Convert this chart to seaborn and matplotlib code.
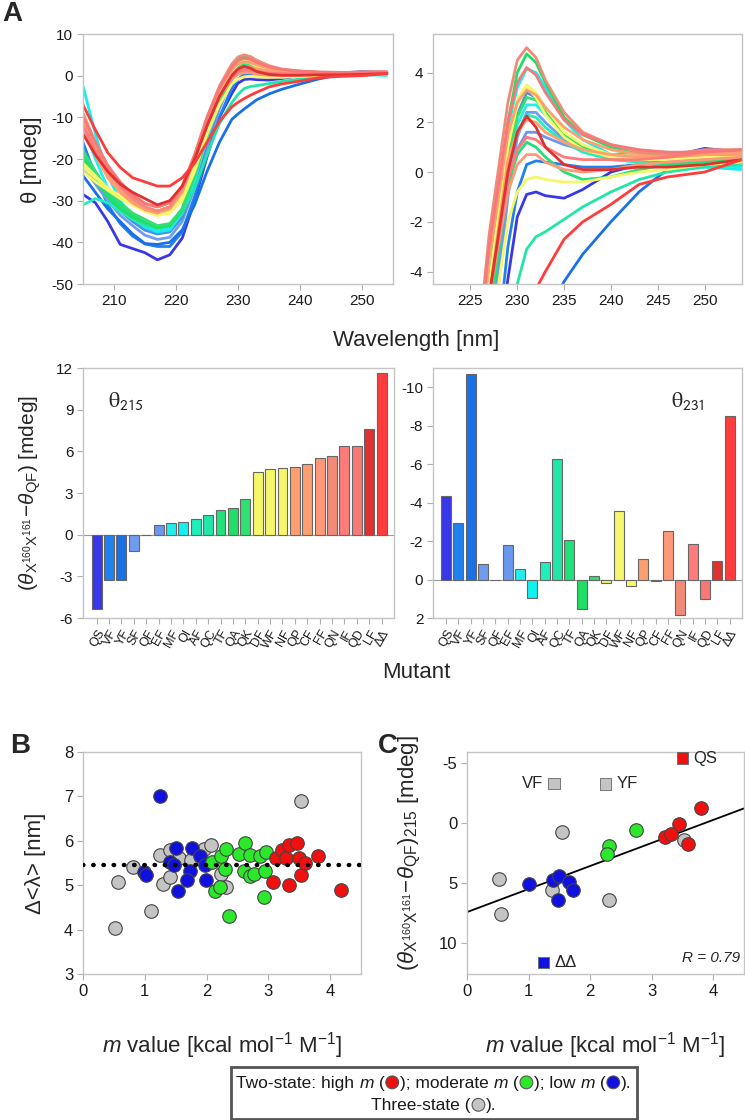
import numpy as np
import pandas as pd
import matplotlib
matplotlib.use("Agg")
import matplotlib.pyplot as plt
import seaborn as sns
from matplotlib.offsetbox import TextArea, DrawingArea, HPacker, VPacker, AnnotationBbox
from matplotlib.patches import Circle

# ---------------- data ----------------
mutants = ['QS', 'VF', 'YF', 'SF', 'QF', 'EF', 'MF', 'QI', 'AF', 'QC', 'TF', 'QA', 'QK',
           'DF', 'WF', 'NF', 'QP', 'CF', 'FF', 'QN', 'IF', 'QD', 'LF', 'ΔΔ']
mutant_colors = ['#3838e8', '#1f80f0', '#1a70e6', '#6f9cf0', '#4a90e0', '#6a98ee', '#22eeee',
                 '#10f0f0', '#20eebb', '#20e6a8', '#22e07a', '#22dd66', '#30e070', '#f6f66a',
                 '#f6f66a', '#f6f66a', '#ff9f70', '#ff9f70', '#ff9878', '#f28a78', '#ff7a7a',
                 '#f87878', '#e03030', '#ff3c3c']

theta215_diff = [-5.38, -3.29, -3.24, -1.18, 0.0, 0.67, 0.82, 0.89, 1.13, 1.39, 1.78, 1.92, 2.57,
                 4.51, 4.70, 4.82, 4.90, 5.11, 5.50, 5.64, 6.38, 6.38, 7.58, 11.64]
theta231_diff = [-4.36, -2.93, -10.70, -0.81, 0.0, -1.79, -0.53, 0.95, -0.93, -6.29, -2.04, 1.54,
                 -0.20, 0.20, -3.57, 0.31, -1.09, 0.07, -2.53, 1.82, -1.83, 0.99, -0.99, -8.50]

wavelength = [205, 207, 209, 211, 213, 215, 217, 219, 221, 223, 225, 227, 229, 230, 231, 232,
              233, 235, 237, 240, 243, 246, 250, 254]
cd_QS = [-28.5, -30.5, -35.0, -40.5, -41.5, -42.5, -44.2, -43.0, -39.0, -30.0, -19.5, -10.0, -4.3, -1.8, -0.9, -0.8, -0.95, -1.05, -0.7, 0.0, 0.3, 0.6, 0.95, 0.8]
cd_VF = [-16.0, -24.0, -31.0, -35.5, -38.5, -40.4, -41.0, -41.0, -37.5, -29.0, -19.0, -10.0, -3.0, -0.8, 0.3, 0.45, 0.4, 0.3, 0.2, 0.2, 0.3, 0.4, 0.6, 0.7]
cd_YF = [-24.0, -28.0, -32.0, -35.0, -38.0, -40.3, -40.5, -40.0, -37.0, -31.0, -23.0, -16.0, -10.5, -9.2, -8.0, -6.9, -5.8, -4.4, -3.3, -2.0, -0.8, 0.1, 0.3, 0.7]
cd_SF = [-22.0, -26.0, -30.0, -33.5, -36.0, -38.3, -39.3, -38.8, -35.0, -27.0, -17.0, -8.0, -1.0, 1.4, 2.4, 2.4, 2.0, 1.3, 0.9, 0.6, 0.4, 0.4, 0.5, 0.6]
cd_QF = [-20.0, -25.0, -29.0, -32.5, -35.0, -37.1, -38.0, -37.5, -34.0, -26.0, -16.0, -7.0, 0.5, 2.3, 3.2, 3.0, 2.4, 1.5, 1.0, 0.7, 0.5, 0.4, 0.5, 0.6]
cd_EF = [-18.0, -23.0, -28.0, -31.5, -34.0, -36.4, -37.5, -37.0, -33.0, -25.0, -15.0, -7.0, -0.5, 0.9, 1.6, 1.6, 1.4, 1.1, 0.9, 0.6, 0.5, 0.4, 0.5, 0.5]
cd_MF = [-12.0, -20.0, -27.0, -31.0, -34.0, -36.3, -37.0, -36.5, -33.0, -25.0, -15.0, -6.0, 0.0, 1.9, 2.7, 2.7, 2.3, 1.5, 1.0, 0.6, 0.4, 0.3, 0.3, 0.2]
cd_QI = [-2.5, -14.0, -24.0, -30.0, -34.0, -36.2, -37.5, -37.0, -33.0, -24.0, -14.0, -5.0, 1.8, 3.4, 4.15, 4.0, 3.4, 2.1, 1.3, 0.7, 0.4, 0.2, 0.2, 0.1]
cd_AF = [-31.0, -29.5, -30.5, -32.5, -34.5, -36.0, -36.5, -36.0, -32.0, -24.0, -14.0, -6.0, 0.0, 1.6, 2.3, 2.2, 1.8, 1.2, 0.8, 0.5, 0.4, 0.3, 0.3, 0.3]
cd_QC = [-20.0, -25.0, -29.0, -32.0, -34.0, -35.7, -36.5, -36.0, -33.0, -27.0, -19.0, -11.5, -6.5, -4.5, -3.1, -2.6, -2.4, -1.9, -1.4, -0.8, -0.3, 0.0, 0.2, 0.3]
cd_TF = [-19.0, -24.0, -28.0, -31.0, -33.5, -35.3, -36.5, -36.0, -32.0, -24.0, -14.0, -6.0, -0.5, 0.7, 1.2, 1.0, 0.6, 0.0, -0.3, -0.2, 0.1, 0.3, 0.4, 0.5]
cd_QA = [-20.0, -25.0, -29.0, -32.0, -34.0, -35.2, -36.5, -36.0, -32.0, -23.0, -13.0, -4.5, 2.0, 4.0, 4.75, 4.4, 3.6, 2.2, 1.5, 1.0, 0.8, 0.6, 0.5, 0.4]
cd_QK = [-18.0, -23.0, -27.5, -30.5, -33.0, -34.5, -36.0, -35.5, -32.0, -24.0, -14.0, -6.0, 0.5, 2.2, 3.0, 2.9, 2.4, 1.5, 1.0, 0.7, 0.8, 0.8, 0.6, 0.5]
cd_DF = [-21.0, -24.0, -27.0, -29.0, -31.0, -32.6, -33.5, -33.0, -29.5, -22.0, -13.0, -5.0, 1.0, 2.7, 3.4, 3.0, 2.3, 1.4, 0.9, 0.6, 0.5, 0.5, 0.6, 0.6]
cd_WF = [-22.0, -24.5, -27.0, -29.0, -31.0, -32.4, -33.5, -33.0, -30.0, -23.0, -14.0, -7.0, -2.0, -0.8, -0.3, -0.2, -0.3, -0.4, -0.4, -0.2, 0.0, 0.1, 0.3, 0.4]
cd_NF = [-23.0, -25.5, -27.5, -29.5, -31.0, -32.3, -33.0, -32.5, -29.0, -21.0, -12.0, -4.5, 1.2, 2.9, 3.5, 3.2, 2.6, 1.6, 1.1, 0.7, 0.6, 0.6, 0.6, 0.7]
cd_QP = [-11.0, -18.0, -24.0, -28.0, -30.5, -32.2, -33.0, -32.0, -28.0, -20.0, -12.0, -5.0, 0.5, 1.6, 2.1, 2.0, 1.6, 1.2, 0.9, 0.7, 0.6, 0.6, 0.7, 0.7]
cd_CF = [-12.0, -19.0, -24.5, -28.0, -30.5, -32.0, -32.5, -31.5, -27.5, -19.5, -11.0, -3.5, 1.5, 2.8, 3.3, 3.1, 2.6, 1.8, 1.3, 0.9, 0.7, 0.6, 0.7, 0.8]
cd_FF = [-10.0, -17.0, -23.0, -27.0, -30.0, -31.6, -32.5, -31.5, -27.5, -20.0, -12.0, -5.0, -0.8, 0.3, 0.7, 0.7, 0.4, 0.1, 0.0, 0.1, 0.3, 0.4, 0.5, 0.6]
cd_QN = [-9.0, -16.0, -22.0, -26.5, -29.5, -31.5, -32.5, -31.5, -27.0, -19.0, -10.0, -2.5, 2.8, 4.5, 5.0, 4.6, 3.7, 2.4, 1.6, 1.1, 0.8, 0.7, 0.9, 0.9]
cd_IF = [-12.0, -18.0, -23.0, -26.5, -29.0, -30.7, -31.5, -30.5, -27.0, -20.0, -12.0, -5.0, -0.3, 0.9, 1.4, 1.3, 1.0, 0.6, 0.5, 0.5, 0.5, 0.6, 0.8, 0.9]
cd_QD = [-10.0, -16.0, -21.5, -25.5, -28.5, -30.7, -31.5, -30.5, -26.5, -19.0, -10.0, -3.0, 2.0, 3.6, 4.2, 3.9, 3.2, 2.1, 1.5, 1.1, 0.9, 0.8, 0.8, 0.9]
cd_LF = [-14.0, -19.0, -23.0, -26.0, -28.0, -29.5, -31.0, -30.0, -26.5, -20.0, -12.0, -5.0, 0.0, 1.6, 2.25, 1.8, 1.0, 0.3, 0.1, 0.1, 0.2, 0.2, 0.3, 0.5]
cd_DD = [-7.0, -13.0, -18.5, -22.0, -24.5, -25.5, -26.5, -26.5, -24.5, -21.0, -16.0, -11.0, -7.5, -6.4, -5.5, -4.7, -4.0, -2.7, -2.0, -1.3, -0.5, -0.2, 0.0, 0.5]

# Panel B: m value vs delta <lambda>
B_gray_x = [0.52, 0.56, 0.81, 1.10, 1.25, 1.30, 1.41, 1.41, 1.55, 1.75, 1.96, 2.08, 2.23, 2.32, 3.53]
B_gray_y = [4.03, 5.08, 5.41, 4.43, 5.68, 5.03, 5.80, 5.18, 5.61, 5.56, 5.81, 5.91, 5.25, 4.97, 6.89]
B_blue_x = [1.25, 0.99, 1.02, 1.51, 1.41, 1.47, 1.54, 1.76, 1.74, 1.69, 1.90, 1.97, 1.99]
B_blue_y = [7.01, 5.30, 5.22, 5.83, 5.53, 5.46, 4.86, 5.83, 5.31, 5.12, 5.65, 5.46, 5.11]
B_green_x = [2.09, 2.14, 2.21, 2.23, 2.32, 2.30, 2.37, 2.53, 2.63, 2.61, 2.71, 2.70, 2.76, 2.87, 2.96, 2.95, 2.93]
B_green_y = [5.53, 4.88, 4.97, 5.65, 5.81, 5.36, 4.31, 5.71, 5.95, 5.31, 5.68, 5.20, 5.26, 5.66, 5.74, 5.32, 4.74]
B_red_x = [3.07, 3.13, 3.22, 3.29, 3.33, 3.33, 3.46, 3.49, 3.53, 3.60, 3.80, 4.18]
B_red_y = [5.07, 5.61, 5.80, 5.61, 5.91, 5.01, 5.95, 5.61, 5.23, 5.50, 5.65, 4.89]
B_mean_line = 5.45

# Panel C: m value vs theta215 difference
C_gray_x = [0.52, 0.56, 1.38, 1.55, 2.31, 3.53]
C_gray_y = [4.7, 7.6, 5.6, 0.8, 6.4, 1.4]
C_blue_x = [1.00, 1.40, 1.50, 1.66, 1.72, 1.48]
C_blue_y = [5.1, 4.8, 4.4, 4.9, 5.6, 6.4]
C_green_x = [2.30, 2.27, 2.75]
C_green_y = [1.9, 2.6, 0.6]
C_red_x = [3.80, 3.45, 3.21, 3.32, 3.59]
C_red_y = [-1.2, 0.1, 1.2, 0.9, 1.8]
C_sq_labels = ['QS', 'VF', 'YF', 'ΔΔ']
C_sq_x = [3.50, 1.41, 2.25, 1.24]
C_sq_y = [-5.38, -3.29, -3.24, 11.64]
C_sq_colors = ['#f01010', '#c4c4c4', '#c4c4c4', '#1010e0']
fit_intercept = 7.44
fit_slope = -1.92
fit_r = 0.79

RED, GREEN, BLUE, GRAY = '#f01010', '#2be82b', '#1010e0', '#c4c4c4'

# ---------------- style ----------------
sns.set_theme(style="white")
plt.rcParams['font.family'] = ['Liberation Sans', 'DejaVu Sans']
plt.rcParams['mathtext.fontset'] = 'custom'
plt.rcParams['mathtext.rm'] = 'Liberation Sans'
plt.rcParams['mathtext.it'] = 'Liberation Sans:italic'
plt.rcParams['mathtext.bf'] = 'Liberation Sans:bold'
plt.rcParams['mathtext.sf'] = 'Liberation Sans'
plt.rcParams['axes.unicode_minus'] = False

W, H = 745, 1120
fig = plt.figure(figsize=(W / 100, H / 100), dpi=100)


def add_ax(l, t, r, b):
    return fig.add_axes([l / W, 1 - b / H, (r - l) / W, (b - t) / H])


def style(ax, size=11):
    for s in ax.spines.values():
        s.set_visible(True)
        s.set_color('#c4c4c4')
        s.set_linewidth(1.0)
    ax.tick_params(colors='#b0b0b0', labelcolor='#1a1a1a', length=4, width=0.8,
                   direction='out', labelsize=size, left=True, bottom=True, pad=3)
    ax.set_xlabel('')
    ax.set_ylabel('')


# ---------------- CD spectra ----------------
cd_curves = [cd_QS, cd_VF, cd_YF, cd_SF, cd_QF, cd_EF, cd_MF, cd_QI, cd_AF, cd_QC, cd_TF, cd_QA,
             cd_QK, cd_DF, cd_WF, cd_NF, cd_QP, cd_CF, cd_FF, cd_QN, cd_IF, cd_QD, cd_LF, cd_DD]
rows = []
for m, curve in zip(mutants, cd_curves):
    for w, v in zip(wavelength, curve):
        rows.append((m, w, v))
cd_df = pd.DataFrame(rows, columns=['mutant', 'wl', 'theta'])
pal = dict(zip(mutants, mutant_colors))

axA1 = add_ax(83, 34, 393, 284)
sns.lineplot(data=cd_df, x='wl', y='theta', hue='mutant', palette=pal, estimator=None,
             legend=False, linewidth=2, ax=axA1)
axA1.set_xlim(205, 255)
axA1.set_ylim(-50, 10)
axA1.set_xticks([210, 220, 230, 240, 250])
axA1.set_yticks([-50, -40, -30, -20, -10, 0, 10])
style(axA1)

axA2 = add_ax(433, 34, 742, 284)
sns.lineplot(data=cd_df, x='wl', y='theta', hue='mutant', palette=pal, estimator=None,
             legend=False, linewidth=2, ax=axA2)
axA2.set_xlim(221, 254)
axA2.set_ylim(-4.5, 5.55)
axA2.set_xticks([225, 230, 235, 240, 245, 250])
axA2.set_yticks([-4, -2, 0, 2, 4])
style(axA2)

fig.text(12 / W, 1 - 14 / H, 'A', fontsize=20, fontweight='bold', ha='center', va='center')
fig.text(31 / W, 1 - 160 / H, 'θ [mdeg]', rotation=90, fontsize=16, ha='center', va='center')
fig.text(416 / W, 1 - 341 / H, 'Wavelength [nm]', fontsize=16, ha='center', va='center')

# ---------------- bar charts ----------------
axBar1 = add_ax(83, 368, 394, 618)
sns.barplot(x=mutants, y=theta215_diff, hue=mutants, palette=mutant_colors, legend=False,
            saturation=1, width=0.8, edgecolor='#666666', linewidth=0.8, ax=axBar1)
axBar1.set_xlim(-1.1, 24.0)
axBar1.set_ylim(-6, 12)
axBar1.set_yticks([-6, -3, 0, 3, 6, 9, 12])
axBar1.axhline(0, color='#999999', lw=0.8, zorder=0)
style(axBar1)
axBar1.set_xticks(range(len(mutants)))
axBar1.set_xticklabels(mutants, rotation=60, ha='right', rotation_mode='anchor', fontsize=9)
axBar1.text(0.08, 0.87, r'$\mathrm{θ}_{\mathsf{215}}$', transform=axBar1.transAxes, fontsize=16,
            math_fontfamily='stix', ha='left', va='center')

axBar2 = add_ax(433, 368, 742, 618)
sns.barplot(x=mutants, y=theta231_diff, hue=mutants, palette=mutant_colors, legend=False,
            saturation=1, width=0.8, edgecolor='#666666', linewidth=0.8, ax=axBar2)
axBar2.set_xlim(-1.05, 24.0)
axBar2.set_ylim(2, -11)
axBar2.set_yticks([2, 0, -2, -4, -6, -8, -10])
axBar2.axhline(0, color='#999999', lw=0.8, zorder=0)
style(axBar2)
axBar2.set_xticks(range(len(mutants)))
axBar2.set_xticklabels(mutants, rotation=60, ha='right', rotation_mode='anchor', fontsize=9)
axBar2.text(0.77, 0.87, r'$\mathrm{θ}_{\mathsf{231}}$', transform=axBar2.transAxes, fontsize=16,
            math_fontfamily='stix', ha='left', va='center')

fig.text(30 / W, 1 - 493 / H,
         r'$(\theta_{\mathrm{X}^{160}\mathrm{X}^{161}}\!-\!\theta_{\mathrm{QF}})$ [mdeg]',
         rotation=90, fontsize=15, ha='center', va='center')
fig.text(416 / W, 1 - 672 / H, 'Mutant', fontsize=16, ha='center', va='center')

# ---------------- panel B ----------------
axB = add_ax(83, 752, 361, 974)
sns.lineplot(x=[0, 4.5], y=[B_mean_line, B_mean_line], color='black', lw=3.2,
             linestyle=(0, (0.1, 2.2)), dash_capstyle='round', ax=axB, zorder=5)
for xs, ys, c in [(B_gray_x, B_gray_y, GRAY), (B_blue_x, B_blue_y, BLUE),
                  (B_green_x, B_green_y, GREEN), (B_red_x, B_red_y, RED)]:
    sns.scatterplot(x=xs, y=ys, color=c, s=95, edgecolor='#444444', linewidth=0.8, ax=axB, zorder=3)
axB.set_xlim(0, 4.5)
axB.set_ylim(3, 8)
axB.set_xticks([0, 1, 2, 3, 4])
axB.set_yticks([3, 4, 5, 6, 7, 8])
style(axB, size=12)
fig.text(20 / W, 1 - 746 / H, 'B', fontsize=20, fontweight='bold', ha='center', va='center')
fig.text(35 / W, 1 - 863 / H, 'Δ<λ> [nm]', rotation=90, fontsize=16, ha='center', va='center')
fig.text(222 / W, 1 - 1046 / H, r'$m$ value [kcal mol$^{-1}$ M$^{-1}$]', fontsize=16,
         ha='center', va='center')

# ---------------- panel C ----------------
axC = add_ax(467, 752, 744, 974)
fit_x = [0.0, 4.5]
fit_y = [fit_intercept + fit_slope * v for v in fit_x]
sns.lineplot(x=fit_x, y=fit_y, color='black', lw=1.3, ax=axC, zorder=2)
for xs, ys, c in [(C_gray_x, C_gray_y, GRAY), (C_blue_x, C_blue_y, BLUE),
                  (C_green_x, C_green_y, GREEN), (C_red_x, C_red_y, RED)]:
    sns.scatterplot(x=xs, y=ys, color=c, s=95, edgecolor='#444444', linewidth=0.8, ax=axC, zorder=3)
sns.scatterplot(x=C_sq_x, y=C_sq_y, hue=C_sq_labels, palette=C_sq_colors, marker='s', s=70,
                edgecolor='#666666', linewidth=0.6, legend=False, ax=axC, zorder=3)
for lab, xv, yv in zip(C_sq_labels, C_sq_x, C_sq_y):
    if lab == 'VF':
        axC.annotate(lab, (xv, yv), xytext=(-8, 0), textcoords='offset points', ha='right',
                     va='center', fontsize=12)
    else:
        axC.annotate(lab, (xv, yv), xytext=(8, 0), textcoords='offset points', ha='left',
                     va='center', fontsize=12)
axC.text(0.985, 0.07, f'R = {fit_r:.2f}', transform=axC.transAxes, ha='right', va='center',
         fontsize=11, style='italic')
axC.set_xlim(0, 4.5)
axC.set_ylim(12.6, -5.9)
axC.set_xticks([0, 1, 2, 3, 4])
axC.set_yticks([-5, 0, 5, 10])
style(axC, size=12)
fig.text(388 / W, 1 - 746 / H, 'C', fontsize=20, fontweight='bold', ha='center', va='center')
fig.text(410 / W, 1 - 853 / H,
         r'$(\theta_{\mathrm{X}^{160}\mathrm{X}^{161}}\!-\!\theta_{\mathrm{QF}})_{215}$ [mdeg]',
         rotation=90, fontsize=16, ha='center', va='center')
fig.text(605 / W, 1 - 1046 / H, r'$m$ value [kcal mol$^{-1}$ M$^{-1}$]', fontsize=16,
         ha='center', va='center')

# ---------------- legend box ----------------
def circ(color):
    da = DrawingArea(11, 11, 0, 0)
    da.add_artist(Circle((5.5, 4.0), 4.6, fc=color, ec='#555555', lw=0.8))
    return da


tp = dict(size=12.5, color='#1a1a1a')
tpi = dict(size=12.5, color='#1a1a1a', style='italic')
line1 = HPacker(children=[TextArea('Two-state: high ', textprops=tp), TextArea('m', textprops=tpi),
                          TextArea(' (', textprops=tp), circ(RED), TextArea('); moderate ', textprops=tp),
                          TextArea('m', textprops=tpi), TextArea(' (', textprops=tp), circ(GREEN),
                          TextArea('); low ', textprops=tp), TextArea('m', textprops=tpi),
                          TextArea(' (', textprops=tp), circ(BLUE), TextArea(').', textprops=tp)],
                align='baseline', pad=0, sep=0)
line2 = HPacker(children=[TextArea('Three-state (', textprops=tp), circ(GRAY),
                          TextArea(').', textprops=tp)], align='baseline', pad=0, sep=0)
box = VPacker(children=[line1, line2], align='center', pad=2, sep=3)
ab = AnnotationBbox(box, (434 / W, 1 - 1093 / H), xycoords='figure fraction', frameon=True,
                    box_alignment=(0.5, 0.5),
                    bboxprops=dict(ec='#555555', lw=2, fc='white', boxstyle='square,pad=0.2'))
fig.add_artist(ab)

fig.savefig('out.png', dpi=100)
